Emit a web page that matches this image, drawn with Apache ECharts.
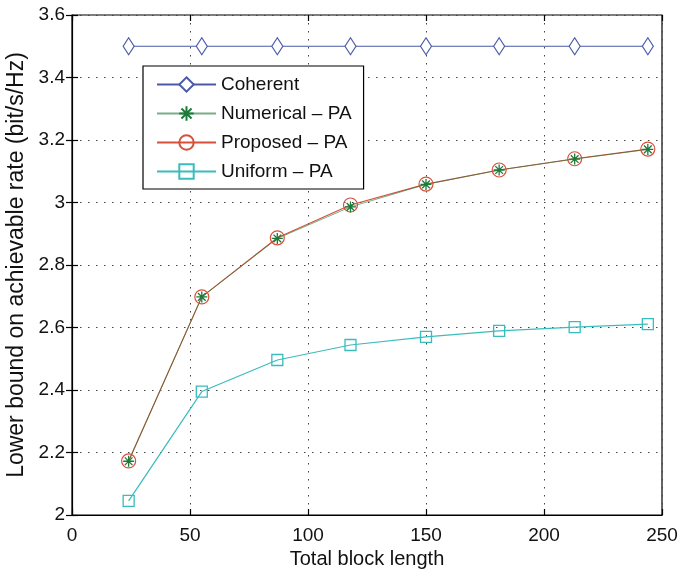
<!DOCTYPE html>
<html><head><meta charset="utf-8">
<script src="https://cdn.jsdelivr.net/npm/echarts@6/dist/echarts.min.js"></script>
<style>html,body{margin:0;padding:0;background:#fff}#c{width:685px;height:581px}</style>
</head><body><div id="c"></div>
<script>
const blockLength = [24, 55, 87, 118, 150, 181, 213, 244];
const coherent = [3.5, 3.5, 3.5, 3.5, 3.5, 3.5, 3.5, 3.5];
const numericalPA = [2.172, 2.698, 2.885, 2.986, 3.058, 3.104, 3.139, 3.170];
const proposedPA = [2.173, 2.698, 2.887, 2.992, 3.059, 3.104, 3.140, 3.171];
const uniformPA = [2.045, 2.395, 2.496, 2.544, 2.570, 2.589, 2.601, 2.611];
const xTicks = [0, 50, 100, 150, 200, 250];
const yTicks = [2, 2.2, 2.4, 2.6, 2.8, 3, 3.2, 3.4, 3.6];

const pair = ys => blockLength.map((x, i) => [x, ys[i]]);
const font = 'Liberation Sans, Arial, Helvetica, sans-serif';
const starPath = 'path://M0,-10L0,10M-10,0L10,0M-7,-7L7,7M-7,7L7,-7';

const chart = echarts.init(document.getElementById('c'), null, {renderer: 'canvas'});
const gridLine = {show: true, lineStyle: {color: '#444', width: 1, type: [1.5, 6.5]}};
const tick = {show: true, inside: true, length: 6, lineStyle: {color: '#000', width: 1.2}};
const xMin = xTicks[0], xMax = xTicks[xTicks.length - 1];
const yMin = yTicks[0], yMax = yTicks[yTicks.length - 1];
chart.setOption({
  animation: false,
  backgroundColor: '#fff',
  grid: {left: 72, right: 23, top: 15, bottom: 66, show: true, borderColor: '#000', borderWidth: 1.2,
    containLabel: false, outerBoundsMode: 'none'},
  xAxis: [{
    type: 'value', min: xMin, max: xMax, interval: 50,
    name: 'Total block length', nameLocation: 'middle', nameGap: 34,
    nameTextStyle: {fontFamily: font, fontSize: 20, color: '#111'},
    axisLine: {show: true, onZero: false, lineStyle: {color: '#000', width: 1.2}},
    axisTick: tick,
    axisLabel: {fontFamily: font, fontSize: 19, color: '#111', margin: 11},
    splitLine: gridLine
  }, {
    type: 'value', position: 'top', min: xMin, max: xMax, interval: 50,
    axisLine: {show: false}, axisTick: tick, axisLabel: {show: false}, splitLine: {show: false}
  }],
  yAxis: [{
    type: 'value', min: yMin, max: yMax, interval: 0.2,
    name: 'Lower bound on achievable rate (bit/s/Hz)', nameLocation: 'middle', nameGap: 41,
    nameTextStyle: {fontFamily: font, fontSize: 23, color: '#111'},
    axisLine: {show: true, onZero: false, lineStyle: {color: '#000', width: 1.2}},
    axisTick: tick,
    axisLabel: {fontFamily: font, fontSize: 19, color: '#111', margin: 7,
      formatter: v => String(Math.round(v * 10) / 10)},
    splitLine: gridLine
  }, {
    type: 'value', position: 'right', min: yMin, max: yMax, interval: 0.2,
    axisLine: {show: false}, axisTick: tick, axisLabel: {show: false}, splitLine: {show: false}
  }],
  legend: {
    left: 143, top: 66, orient: 'vertical', itemWidth: 59, itemHeight: 18, itemGap: 10,
    padding: [9, 12, 8, 13],
    backgroundColor: '#fff', borderColor: '#000', borderWidth: 1.2,
    textStyle: {fontFamily: font, fontSize: 19, color: '#111'},
    data: ['Coherent', 'Numerical \u2013 PA', 'Proposed \u2013 PA', 'Uniform \u2013 PA']
  },
  series: [
    {name: 'Coherent', type: 'line', data: pair(coherent), symbol: 'diamond', symbolSize: [11, 17],
      lineStyle: {color: '#4a5aa8', width: 1}, itemStyle: {color: '#fff', borderColor: '#4a5aa8', borderWidth: 1.2}},
    {name: 'Proposed \u2013 PA', type: 'line', data: pair(proposedPA), symbol: 'circle', symbolSize: 14,
      lineStyle: {color: '#d8503a', width: 1.2}, itemStyle: {color: 'rgba(255,255,255,0)', borderColor: '#d8503a', borderWidth: 1.2}},
    {name: 'Numerical \u2013 PA', type: 'line', data: pair(numericalPA), symbol: starPath, symbolSize: 11,
      lineStyle: {color: '#1d7a3a', width: 1, opacity: 0.6}, itemStyle: {color: 'rgba(0,0,0,0)', borderColor: '#1d7a3a', borderWidth: 1.3}},
    {name: 'Uniform \u2013 PA', type: 'line', data: pair(uniformPA), symbol: 'rect', symbolSize: 11,
      lineStyle: {color: '#3bbcbc', width: 1.2}, itemStyle: {color: 'rgba(255,255,255,0)', borderColor: '#3bbcbc', borderWidth: 1.3}}
  ]
});
</script></body></html>
